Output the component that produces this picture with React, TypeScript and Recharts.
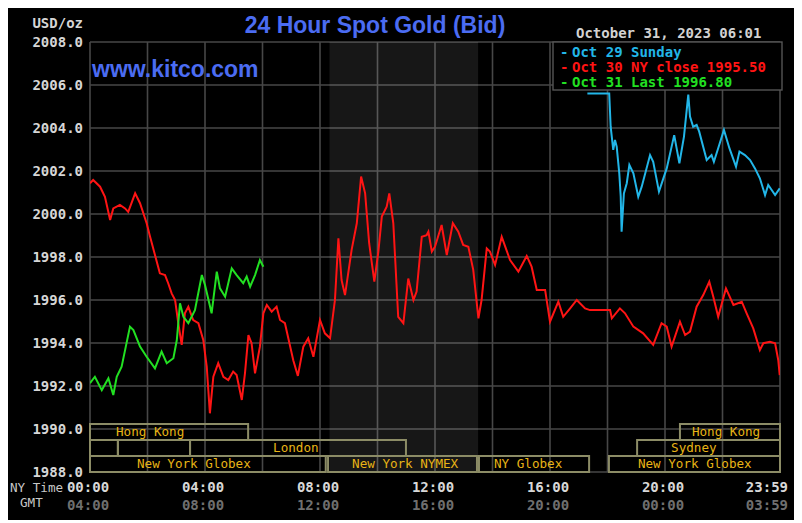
import React from 'react';
import { LineChart, Line, XAxis, YAxis, CartesianGrid, ReferenceArea } from 'recharts';

// ---- data (hours after NY midnight, USD/oz) ----
const oct31Times = [0, 0.17, 0.41, 0.64, 0.81, 0.93, 1.1, 1.39, 1.51, 1.74, 1.97, 2.26, 2.49, 2.67, 2.9, 3.02, 3.13, 3.25, 3.42, 3.65, 3.89, 4.0, 4.23, 4.41, 4.52, 4.7, 4.93, 5.1, 5.33, 5.45, 5.57, 5.74, 5.91, 6.03];
const oct31Values = [1992.13, 1992.43, 1991.81, 1992.36, 1991.58, 1992.43, 1992.9, 1994.76, 1994.6, 1993.83, 1993.36, 1992.82, 1993.6, 1993.06, 1993.29, 1994.14, 1995.85, 1995.22, 1994.92, 1995.53, 1997.16, 1996.7, 1995.38, 1997.32, 1996.54, 1996.15, 1997.47, 1997.16, 1996.78, 1997.09, 1996.62, 1997.16, 1997.86, 1997.55];

const oct30Times = [0, 0.11, 0.35, 0.52, 0.7, 0.81, 1.04, 1.22, 1.33, 1.57, 1.74, 1.97, 2.09, 2.26, 2.43, 2.61, 2.72, 2.84, 2.96, 3.07, 3.19, 3.3, 3.42, 3.59, 3.77, 3.94, 4.06, 4.17, 4.29, 4.46, 4.64, 4.81, 4.98, 5.1, 5.28, 5.39, 5.51, 5.62, 5.74, 5.91, 6.03, 6.15, 6.32, 6.49, 6.61, 6.78, 7.07, 7.23, 7.42, 7.59, 7.77, 8.0, 8.17, 8.35, 8.52, 8.64, 8.75, 8.87, 9.1, 9.28, 9.43, 9.57, 9.71, 9.89, 10.03, 10.15, 10.32, 10.41, 10.55, 10.72, 10.9, 11.07, 11.25, 11.36, 11.54, 11.71, 11.77, 11.89, 12.0, 12.23, 12.41, 12.62, 12.81, 12.98, 13.16, 13.33, 13.51, 13.62, 13.8, 13.91, 14.09, 14.32, 14.61, 14.9, 15.19, 15.36, 15.54, 15.83, 16.0, 16.29, 16.46, 16.7, 16.93, 17.22, 17.39, 18.09, 18.15, 18.43, 18.61, 18.9, 19.24, 19.59, 19.88, 20.06, 20.23, 20.52, 20.7, 20.87, 21.1, 21.33, 21.54, 21.68, 21.85, 22.12, 22.38, 22.67, 22.84, 23.07, 23.3, 23.42, 23.65, 23.83, 23.94, 23.99];
const oct30Values = [2001.43, 2001.58, 2001.27, 2000.8, 1999.72, 2000.26, 2000.42, 2000.26, 2000.1, 2000.96, 2000.5, 1999.57, 1998.94, 1998.09, 1997.24, 1997.16, 1996.78, 1996.31, 1996.0, 1994.92, 1993.91, 1995.38, 1995.69, 1995.07, 1994.92, 1994.14, 1992.9, 1990.73, 1992.43, 1993.06, 1992.43, 1992.28, 1992.67, 1992.51, 1991.35, 1992.59, 1994.37, 1993.99, 1992.59, 1993.83, 1995.38, 1995.77, 1995.46, 1995.69, 1995.07, 1994.92, 1993.2, 1992.47, 1993.83, 1994.22, 1993.36, 1995.07, 1994.45, 1994.22, 1996.0, 1998.87, 1996.93, 1996.23, 1998.33, 1999.57, 2001.74, 2000.96, 1998.64, 1996.85, 1998.25, 1999.88, 2000.34, 2000.96, 1999.57, 1995.22, 1994.92, 1997.0, 1996.0, 1996.39, 1998.94, 1999.02, 1999.18, 1998.25, 1998.48, 1999.49, 1998.09, 1999.57, 1999.18, 1998.56, 1998.48, 1997.4, 1995.15, 1996.0, 1998.4, 1998.25, 1997.63, 1998.94, 1997.86, 1997.32, 1998.05, 1997.55, 1996.47, 1996.47, 1994.99, 1995.92, 1995.22, 1995.61, 1996.0, 1995.61, 1995.53, 1995.53, 1995.15, 1995.61, 1995.38, 1994.76, 1994.45, 1993.91, 1994.92, 1994.76, 1993.83, 1994.99, 1994.37, 1994.53, 1995.69, 1996.23, 1996.85, 1996.15, 1995.22, 1996.54, 1995.77, 1995.92, 1995.38, 1994.68, 1993.67, 1993.99, 1994.06, 1993.99, 1993.2, 1992.51];

const oct29Times = [17.3, 18.06, 18.11, 18.2, 18.26, 18.32, 18.41, 18.46, 18.49, 18.57, 18.67, 18.76, 18.9, 19.07, 19.19, 19.48, 19.59, 19.79, 20.06, 20.32, 20.5, 20.66, 20.81, 20.87, 20.98, 21.1, 21.19, 21.45, 21.62, 21.7, 21.85, 22.05, 22.24, 22.47, 22.59, 22.78, 22.96, 23.13, 23.3, 23.48, 23.59, 23.83, 23.99];
const oct29Values = [2005.6, 2005.6, 2004.06, 2002.98, 2003.44, 2003.13, 2001.89, 2000.8, 1999.18, 2000.96, 2001.43, 2002.28, 2001.89, 2000.8, 2001.27, 2002.74, 2002.43, 2001.04, 2002.12, 2003.67, 2002.36, 2003.6, 2005.55, 2004.53, 2004.06, 2004.14, 2003.83, 2002.51, 2002.74, 2002.43, 2003.06, 2003.91, 2003.06, 2002.2, 2002.9, 2002.74, 2002.51, 2002.12, 2001.66, 2000.88, 2001.35, 2000.88, 2001.19];

const yTicks = [1988, 1990, 1992, 1994, 1996, 1998, 2000, 2002, 2004, 2006, 2008];
const xTicks = [0, 2, 4, 6, 8, 10, 12, 14, 16, 18, 20, 22, 24];
const nyTimeTicks = [0, 4, 8, 12, 16, 20, 24];
const nyTimeLabels = ['00:00', '04:00', '08:00', '12:00', '16:00', '20:00', '23:59'];
const gmtLabels = ['04:00', '08:00', '12:00', '16:00', '20:00', '00:00', '03:59'];

const legendNames = ['Oct 29 Sunday', 'Oct 30 NY close 1995.50', 'Oct 31 Last 1996.80'];

const nymexStart = 8.33;
const nymexEnd = 13.5;

const sessionNames = ['Hong Kong', '', '', 'London', 'New York Globex', 'New York NYMEX', 'NY Globex', 'Hong Kong', 'Sydney', 'New York Globex'];
const sessionStarts = [0, 0, 0.97, 3.48, 0, 8.28, 13.53, 20.52, 19.03, 18.05];
const sessionEnds = [5.5, 0.97, 3.48, 10.99, 8.2, 13.46, 17.36, 24, 24, 24];
const sessionRows = [0, 1, 1, 1, 2, 2, 2, 0, 1, 2];

// ---- layout / style ----
const W = 787;
const H = 512;
const MONO = "'DejaVu Sans Mono', 'Liberation Mono', monospace";
const SANS = "'Liberation Sans', Arial, sans-serif";
const rowBands = [[1989.488, 1990.233], [1988.744, 1989.488], [1988, 1988.744]];
const labelOffsets = [26, 0, 0, 83, 47, 24, 15, 12, 34, 29];
const COLORS = { cyan: '#22b6e8', red: '#ff1414', green: '#22e022' };

const toSeries = (ts: number[], vs: number[]) => ts.map((t, i) => ({ t, v: vs[i] }));
const oct29 = toSeries(oct29Times, oct29Values);
const oct30 = toSeries(oct30Times, oct30Values);
const oct31 = toSeries(oct31Times, oct31Values);

const YTick = (props: any) => {
  const { y, payload } = props;
  return (
    <text x={75} y={y + 5} textAnchor="end" fill="#d6d6d6" fontFamily={MONO} fontWeight="bold" fontSize={14}>
      {Number(payload.value).toFixed(1)}
    </text>
  );
};

const XTick = (props: any) => {
  const { x, payload } = props;
  const idx = nyTimeTicks.indexOf(payload.value);
  if (idx < 0) return <g />;
  const last = payload.value === 24;
  const tx = last ? x + 8 : x - 2;
  const anchor = last ? 'end' : 'middle';
  return (
    <g>
      <text x={tx} y={484} textAnchor={anchor} fill="#d8d8d8" fontFamily={MONO} fontWeight="bold" fontSize={14}>
        {nyTimeLabels[idx]}
      </text>
      <text x={tx} y={502} textAnchor={anchor} fill="#6f6f6f" fontFamily={MONO} fontWeight="bold" fontSize={14}>
        {gmtLabels[idx]}
      </text>
    </g>
  );
};

export default function App() {
  const legendColors = [COLORS.cyan, COLORS.red, COLORS.green];
  return (
    <div style={{ position: 'relative', width: W, height: H, background: '#000' }}>
      <LineChart width={W} height={H} margin={{ top: 34, right: 15, bottom: 0, left: 0 }}>
        <CartesianGrid stroke="#474747" strokeWidth={1.6} />
        <XAxis
          type="number"
          dataKey="t"
          domain={[0, 24]}
          ticks={xTicks}
          interval={0}
          allowDataOverflow
          axisLine={false}
          tickLine={false}
          height={48}
          tick={<XTick />}
        />
        <YAxis
          type="number"
          domain={[1988, 2008]}
          ticks={yTicks}
          interval={0}
          allowDataOverflow
          axisLine={false}
          tickLine={false}
          width={82}
          tick={<YTick />}
        />
        <ReferenceArea x1={nymexStart} x2={nymexEnd} y1={1988} y2={2008} fill="#ffffff" fillOpacity={0.09} stroke="none" />
        {sessionNames.map((name, i) => (
          <ReferenceArea
            key={i}
            x1={sessionStarts[i]}
            x2={sessionEnds[i]}
            y1={rowBands[sessionRows[i]][0]}
            y2={rowBands[sessionRows[i]][1]}
            fill="none"
            fillOpacity={0}
            stroke="#8c8c66"
            strokeWidth={2}
            label={name ? { value: name, position: 'insideLeft', offset: labelOffsets[i], fill: '#e8b416', fontSize: 12.6, fontFamily: MONO } : undefined}
          />
        ))}
        <Line data={oct30} dataKey="v" stroke={COLORS.red} strokeWidth={2} dot={false} isAnimationActive={false} type="linear" />
        <Line data={oct29} dataKey="v" stroke={COLORS.cyan} strokeWidth={2} dot={false} isAnimationActive={false} type="linear" />
        <Line data={oct31} dataKey="v" stroke={COLORS.green} strokeWidth={2} dot={false} isAnimationActive={false} type="linear" />
      </LineChart>
      <svg width={W} height={H} style={{ position: 'absolute', left: 0, top: 0, pointerEvents: 'none' }}>
        <text x={75} y={20} textAnchor="end" fill="#d6d6d6" fontFamily={MONO} fontWeight="bold" fontSize={14}>USD/oz</text>
        <text x={367} y={25} textAnchor="middle" fill="#4b6cf2" fontFamily={SANS} fontWeight="bold" fontSize={23}>24 Hour Spot Gold (Bid)</text>
        <text x={84} y={69} fill="#4b6cf2" fontFamily={SANS} fontWeight="bold" fontSize={23}>www.kitco.com</text>
        <text x={568} y={30} fill="#d2d2d2" fontFamily={MONO} fontWeight="bold" fontSize={14}>October 31, 2023 06:01</text>
        <rect x={545} y={34} width={229} height={48} fill="#000" stroke="#555" strokeWidth={1.4} />
        {legendNames.map((n, i) => (
          <g key={n}>
            <text x={552} y={49 + i * 15} fill={legendColors[i]} fontFamily={MONO} fontWeight="bold" fontSize={14}>-</text>
            <text x={564} y={49 + i * 15} fill={legendColors[i]} fontFamily={MONO} fontWeight="bold" fontSize={14}>{n}</text>
          </g>
        ))}
        <text x={2} y={484} fill="#c8c8c8" fontFamily={MONO} fontSize={12.6}>NY Time</text>
        <text x={12} y={499} fill="#c8c8c8" fontFamily={MONO} fontSize={12.6}>GMT</text>
      </svg>
    </div>
  );
}
